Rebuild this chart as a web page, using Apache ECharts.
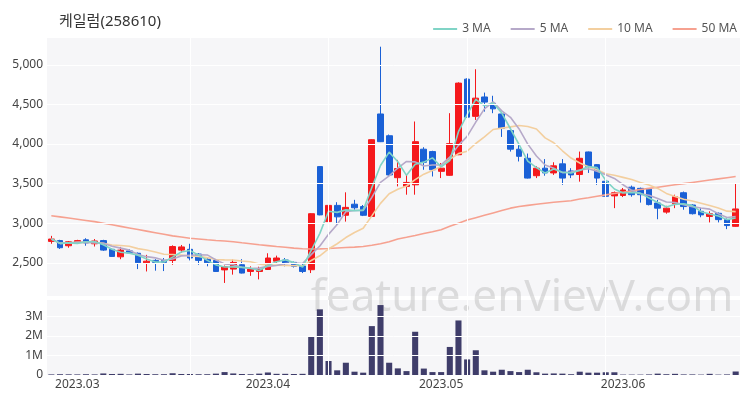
<!DOCTYPE html>
<html>
<head>
<meta charset="utf-8">
<script src="https://cdn.jsdelivr.net/npm/echarts@6/dist/echarts.min.js"></script>
<style>
html,body{margin:0;padding:0;background:#fff;}
#chart{width:750px;height:400px;}
</style>
</head>
<body>
<div id="chart"></div>
<script>
// ---- data ----
const dates = [
'2023-02-24','2023-02-27','2023-02-28',
'2023-03-02','2023-03-03','2023-03-06','2023-03-07','2023-03-08','2023-03-09','2023-03-10','2023-03-13','2023-03-14','2023-03-15','2023-03-16','2023-03-17','2023-03-20','2023-03-21','2023-03-22','2023-03-23','2023-03-24','2023-03-27','2023-03-28','2023-03-29','2023-03-30','2023-03-31',
'2023-04-03','2023-04-04','2023-04-05','2023-04-06','2023-04-07','2023-04-10','2023-04-11','2023-04-12','2023-04-13','2023-04-14','2023-04-17','2023-04-18','2023-04-19','2023-04-20','2023-04-21','2023-04-24','2023-04-25','2023-04-26','2023-04-27','2023-04-28',
'2023-05-02','2023-05-03','2023-05-04','2023-05-08','2023-05-09','2023-05-10','2023-05-11','2023-05-12','2023-05-15','2023-05-16','2023-05-17','2023-05-18','2023-05-19','2023-05-22','2023-05-23','2023-05-24','2023-05-25','2023-05-26','2023-05-29','2023-05-30','2023-05-31',
'2023-06-01','2023-06-02','2023-06-05','2023-06-07','2023-06-08','2023-06-09','2023-06-12','2023-06-13','2023-06-14','2023-06-15','2023-06-16','2023-06-19','2023-06-20','2023-06-21'
];
const opens = [2770,2780,2715,2760,2790,2740,2780,2670,2575,2650,2620,2500,2530,2530,2530,2660,2670,2610,2545,2530,
2410,2420,2475,2390,2390,2415,2520,2535,2505,2460,2412,3715,3020,3225,3100,3240,3210,3085,4380,4105,
3575,3465,3485,3935,3905,3655,3605,3865,4820,4350,4595,4515,4380,4170,3935,3820,3600,3695,3635,3750,
3660,3615,3900,3740,3530,3345,3350,3455,3440,3430,3255,3140,3245,3385,3230,3150,3085,3125,3045,2960];
const closes = [2800,2690,2765,2780,2750,2775,2660,2580,2660,2625,2500,2520,2505,2505,2705,2700,2560,2530,2500,2390,
2450,2505,2370,2420,2415,2560,2560,2490,2455,2390,3120,3105,3225,3080,3200,3195,3100,4055,4030,3610,
3690,3515,4030,3770,3675,3695,4005,4770,4340,4580,4530,4445,4200,3935,3845,3570,3695,3635,3725,3570,
3610,3820,3715,3570,3340,3385,3420,3360,3360,3235,3190,3190,3335,3210,3120,3105,3120,3045,2970,3180];
const lows = [2740,2675,2690,2750,2715,2705,2650,2575,2545,2615,2420,2390,2400,2395,2475,2625,2530,2475,2455,2385,
2245,2350,2365,2335,2290,2410,2490,2455,2440,2370,2370,3100,2925,2980,3020,3170,3090,3080,4025,3600,
3465,3360,3360,3675,3590,3570,3600,3860,4335,4305,4410,4390,4090,3905,3780,3565,3570,3600,3610,3485,
3570,3525,3635,3485,3205,3190,3330,3335,3260,3225,3050,3120,3190,3170,3110,3075,3010,3010,2925,2955];
const highs = [2840,2790,2775,2790,2810,2800,2790,2680,2700,2670,2630,2600,2545,2560,2720,2725,2740,2620,2560,2540,
2465,2540,2545,2455,2450,2620,2590,2560,2515,2490,3125,3720,3315,3265,3390,3295,3230,4060,5230,4120,
3800,3610,4285,3960,3915,3760,4390,4780,4830,4945,4650,4610,4395,4220,3990,3880,3720,3810,3770,3810,
3695,3905,3905,3745,3545,3400,3445,3475,3450,3440,3295,3220,3360,3400,3240,3190,3150,3135,3060,3505];
const volumes = [30000,40000,35000,30000,40000,30000,80000,50000,60000,30000,70000,50000,40000,40000,90000,50000,50000,40000,40000,70000,
150000,80000,50000,40000,70000,130000,60000,60000,50000,60000,1950000,3370000,720000,240000,630000,170000,120000,2510000,3590000,630000,
340000,200000,2220000,330000,150000,150000,1440000,2800000,800000,1270000,240000,170000,270000,200000,150000,270000,140000,70000,80000,70000,
40000,170000,120000,120000,140000,140000,20000,20000,20000,30000,70000,40000,60000,30000,30000,20000,60000,20000,30000,180000];
// 50-day MA (its window starts before the visible range)
const ma50 = [3094,3080,3065,3050,3035,3020,3000,2980,2960,2940,2920,2900,2880,2860,2840,2825,2810,2800,2790,2782,
2775,2765,2752,2740,2728,2717,2705,2695,2685,2677,2674,2676,2680,2686,2692,2698,2706,2722,2740,2765,
2800,2822,2845,2870,2893,2917,2960,3000,3040,3070,3100,3130,3160,3190,3210,3225,3240,3252,3264,3274,
3284,3305,3322,3340,3358,3375,3392,3408,3425,3440,3455,3470,3485,3500,3515,3530,3545,3560,3575,3590];
const priceTicks = [2500,3000,3500,4000,4500,5000];
const volumeTicks = [0,1000000,2000000,3000000];
const verticalGridIdx = [16,32,48,64];
const titleText = '케일럼(258610)';
const watermarkText = 'feature.enVievV.com';

// ---- derived ----
function movingAvg(n){
  return closes.map((c,i)=>{
    const s = Math.max(0,i-n+1);
    const w = closes.slice(s,i+1);
    return +(w.reduce((a,b)=>a+b,0)/w.length).toFixed(1);
  });
}
const ma3 = movingAvg(3), ma5 = movingAvg(5), ma10 = movingAvg(10);
const ohlc = dates.map((d,i)=>[opens[i],closes[i],lows[i],highs[i]]);

const UP='#f5191c', DOWN='#1a60d6';
const FONT='"Noto Sans", "Noto Sans CJK KR", sans-serif';
const gridLineStyle={color:'#ffffff',width:1,type:'solid'};

const chart = echarts.init(document.getElementById('chart'));
const maLine=(name,data,color)=>({name,type:'line',data,xAxisIndex:0,yAxisIndex:0,symbol:'none',
  lineStyle:{color,width:1.6},itemStyle:{color},z:3,silent:true});

chart.setOption({
  animation:false,
  backgroundColor:'#ffffff',
  textStyle:{fontFamily:FONT},
  title:{text:titleText,left:54,top:9,textStyle:{fontSize:15,fontWeight:'normal',color:'#333',fontFamily:FONT}},
  legend:{data:['3 MA','5 MA','10 MA','50 MA'],right:8,top:18,itemWidth:24,itemHeight:2,itemGap:20,icon:'rect',
    textStyle:{fontSize:12,color:'#555',fontFamily:FONT}},
  graphic:[{type:'text',z:1,silent:true,x:522,y:298,
    style:{text:watermarkText,font:'44px "Noto Sans", sans-serif',fill:'rgba(185,185,185,0.45)',
      textAlign:'center',textVerticalAlign:'middle'}}],
  grid:[
    {left:47,right:10,top:38,height:258,show:true,backgroundColor:'#f6f6f8',borderWidth:0},
    {left:47,right:10,top:300,height:75,show:true,backgroundColor:'#f6f6f8',borderWidth:0}
  ],
  xAxis:[
    {type:'category',data:dates,gridIndex:0,boundaryGap:true,axisLine:{show:false},axisTick:{show:false},
      axisLabel:{show:false},splitLine:{show:false}},
    {type:'category',data:dates,gridIndex:1,boundaryGap:true,axisLine:{show:false},axisTick:{show:false},
      splitLine:{show:false},
      axisLabel:{color:'#444',fontSize:12,margin:4,fontFamily:FONT,
        interval:(idx,val)=> idx>0 && val.slice(0,7)!==dates[idx-1].slice(0,7),
        formatter:(val)=>val.slice(0,7).replace('-','.')}}
  ],
  yAxis:[
    {type:'value',gridIndex:0,min:2080,max:5340,axisLine:{show:false},axisTick:{show:false},splitLine:{show:false},
      axisLabel:{customValues:priceTicks,color:'#444',fontSize:12,margin:4,fontFamily:FONT,
        formatter:(v)=>v.toLocaleString('en-US')}},
    {type:'value',gridIndex:1,min:0,max:3850000,axisLine:{show:false},axisTick:{show:false},splitLine:{show:false},
      axisLabel:{customValues:volumeTicks,color:'#444',fontSize:12,margin:4,fontFamily:FONT,
        formatter:(v)=> v===0?'0':(v/1e6)+'M'}}
  ],
  series:[
    {name:'gridMain',type:'line',data:closes,xAxisIndex:0,yAxisIndex:0,symbol:'none',silent:true,z:1,
      lineStyle:{opacity:0},
      markLine:{silent:true,symbol:['none','none'],label:{show:false},lineStyle:gridLineStyle,
        data:[...priceTicks.map(v=>({yAxis:v})),...verticalGridIdx.map(i=>({xAxis:dates[i]}))]}},
    {name:'gridVol',type:'line',data:volumes,xAxisIndex:1,yAxisIndex:1,symbol:'none',silent:true,z:1,
      lineStyle:{opacity:0},
      markLine:{silent:true,symbol:['none','none'],label:{show:false},lineStyle:gridLineStyle,
        data:[...volumeTicks.slice(1).map(v=>({yAxis:v})),...verticalGridIdx.map(i=>({xAxis:dates[i]}))]}},
    {name:'price',type:'candlestick',data:ohlc,xAxisIndex:0,yAxisIndex:0,barWidth:'72%',z:2,
      itemStyle:{color:UP,color0:DOWN,borderColor:UP,borderColor0:DOWN,borderWidth:1}},
    maLine('50 MA',ma50,'#f6a190'),
    maLine('10 MA',ma10,'#f3cf9f'),
    maLine('5 MA',ma5,'#b6a9c9'),
    maLine('3 MA',ma3,'#80d4c6'),
    {name:'volume',type:'bar',data:volumes,xAxisIndex:1,yAxisIndex:1,barWidth:'70%',z:2,
      itemStyle:{color:'#3f3d6a'}}
  ]
});
</script>
</body>
</html>
